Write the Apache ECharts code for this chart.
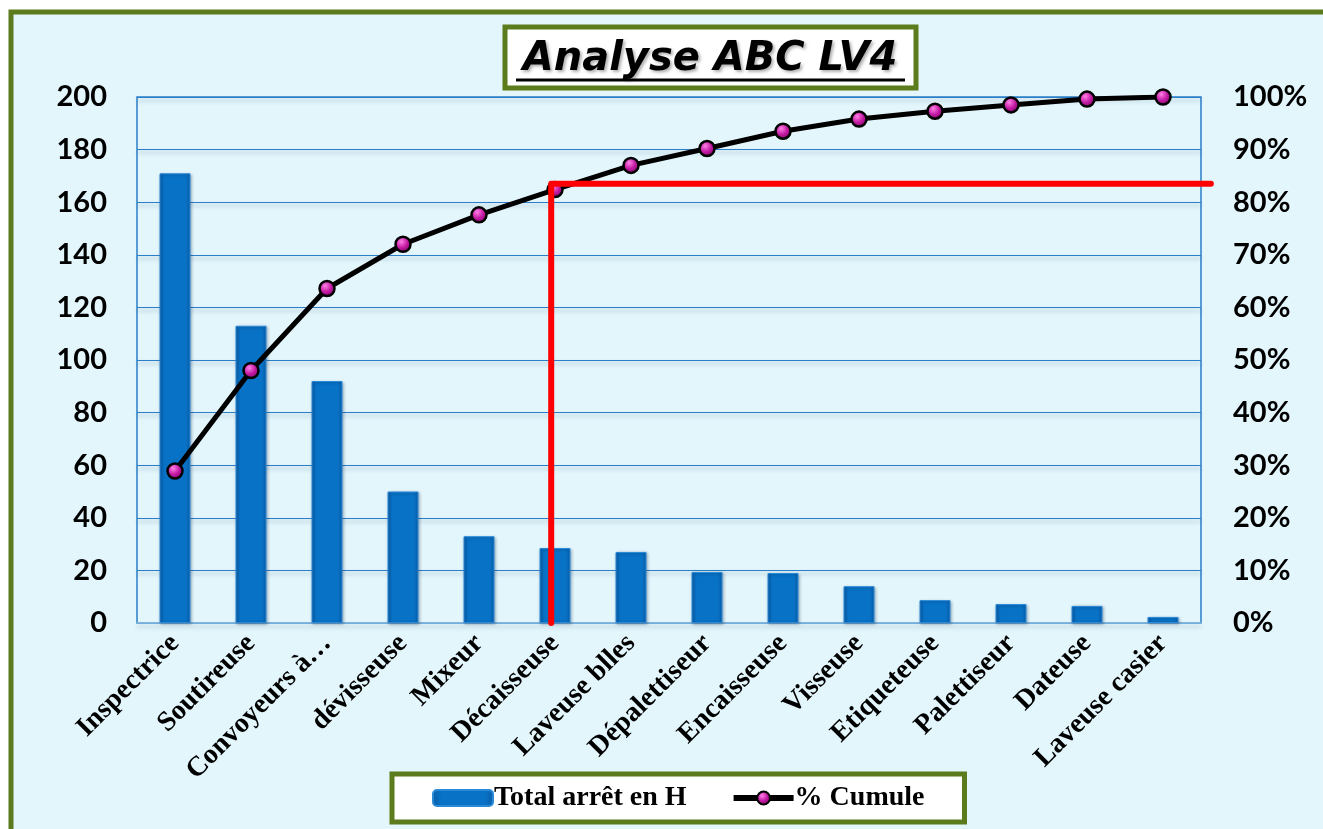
<!DOCTYPE html>
<html><head><meta charset="utf-8">
<script src="https://cdn.jsdelivr.net/npm/echarts@6/dist/echarts.min.js"></script>
<style>html,body{margin:0;padding:0;background:#fff;}#c{width:1323px;height:829px;}</style>
</head><body><div id="c"></div>
<script>
const categories = ['Inspectrice','Soutireuse','Convoyeurs à…','dévisseuse','Mixeur','Décaisseuse','Laveuse blles','Dépalettiseur','Encaisseuse','Visseuse','Etiqueteuse','Palettiseur','Dateuse','Laveuse casier'];
const totalArret = [171, 113, 92, 50, 33, 28.5, 27, 19.4, 19, 14, 8.7, 7.2, 6.5, 2.3];
const cumule = [28.9, 48.0, 63.6, 72.0, 77.6, 82.4, 87.0, 90.2, 93.5, 95.8, 97.3, 98.5, 99.6, 100];
const leftTicks = {min: 0, max: 200, interval: 20};
const rightTicks = {min: 0, max: 100, interval: 10};
// threshold line (category index position, percent)
const redLineX = [4.95, 4.95, 13.63];
const redLineY = [0, 83.5, 83.5];

const chart = echarts.init(document.getElementById('c'));
const bg = '#e3f6fc', green = '#5b7b1d';
const axisFont = {fontFamily: 'Lato', fontWeight: 'bold', fontSize: 29, color: '#000'};
// overlay grid is wider than the main one (right edge 1323-100) so the threshold line can pass the plot border
const mainGrid = {left: 137, right: 122, top: 97, bottom: 206};
const overlayRight = 100;
const overlayMax = -0.5 + categories.length * (1323 - mainGrid.left - overlayRight) / (1323 - mainGrid.left - mainGrid.right);
chart.setOption({
  animation: false,
  graphic: [
    {type: 'rect', z: -10, shape: {x: 11, y: 12, width: 1340, height: 840}, style: {fill: bg, stroke: green, lineWidth: 5}},
    {type: 'rect', z: 10, shape: {x: 505, y: 27, width: 411, height: 61}, style: {fill: '#fff', stroke: green, lineWidth: 5}},
    {type: 'text', z: 11, x: 710, y: 60, style: {text: 'Analyse ABC LV4', fill: '#000', font: 'italic bold 40px "DejaVu Sans"', align: 'center', verticalAlign: 'middle', textShadowColor: 'rgba(0,0,0,0.3)', textShadowBlur: 3, textShadowOffsetX: 2, textShadowOffsetY: 2}},
    {type: 'line', z: 11, shape: {x1: 516, y1: 80, x2: 905, y2: 80}, style: {stroke: '#000', lineWidth: 3}}
  ],
  legend: {
    data: [{name: 'Total arrêt en H'}, {name: '% Cumule', lineStyle: {width: 6}}],
    left: 392, top: 774,
    backgroundColor: '#fff', borderColor: green, borderWidth: 5,
    padding: [10, 40, 10, 40], itemGap: 44, itemWidth: 60, itemHeight: 16,
    textStyle: {fontFamily: 'Liberation Serif', fontWeight: 'bold', fontSize: 28, color: '#000', padding: [0, 0, 0, -4]}
  },
  grid: [
    Object.assign({show: true, borderColor: '#2a7fc8', borderWidth: 1.5, backgroundColor: 'transparent'}, mainGrid),
    {left: mainGrid.left, right: overlayRight, top: mainGrid.top, bottom: mainGrid.bottom, show: false}
  ],
  xAxis: [
    {type: 'category', data: categories, gridIndex: 0,
     axisLine: {lineStyle: {color: '#8fbfe0', width: 1.5}}, axisTick: {show: false},
     axisLabel: {interval: 0, rotate: 45, margin: 16, fontFamily: 'Liberation Serif', fontWeight: 'bold', fontSize: 28, color: '#000'}},
    {type: 'value', gridIndex: 1, min: -0.5, max: overlayMax, show: false}
  ],
  yAxis: [
    {type: 'value', gridIndex: 0, min: leftTicks.min, max: leftTicks.max, interval: leftTicks.interval,
     axisLine: {show: false}, axisTick: {show: false},
     axisLabel: Object.assign({margin: 30}, axisFont),
     splitLine: {lineStyle: {color: '#2a7fc8', width: 1.2, shadowColor: 'rgba(0,40,80,0.35)', shadowBlur: 4, shadowOffsetY: 3}}},
    {type: 'value', gridIndex: 0, min: rightTicks.min, max: rightTicks.max, interval: rightTicks.interval,
     axisLine: {show: false}, axisTick: {show: false}, splitLine: {show: false},
     axisLabel: Object.assign({margin: 32, formatter: '{value}%'}, axisFont)},
    {type: 'value', gridIndex: 1, min: rightTicks.min, max: rightTicks.max, show: false}
  ],
  series: [
    {name: 'Total arrêt en H', type: 'bar', data: totalArret, barWidth: 31,
     itemStyle: {
       color: new echarts.graphic.LinearGradient(0, 0, 1, 0, [
         {offset: 0, color: '#0a5ea8'}, {offset: 0.15, color: '#0872c6'}, {offset: 0.85, color: '#0872c6'}, {offset: 1, color: '#0a5ea8'}]),
       borderColor: '#2b8ad6', borderWidth: 1,
       shadowColor: 'rgba(0,30,70,0.35)', shadowBlur: 3, shadowOffsetX: 1, shadowOffsetY: 1}},
    {name: '% Cumule', type: 'line', yAxisIndex: 1, data: cumule, z: 5,
     lineStyle: {color: '#000', width: 5},
     symbol: 'circle', symbolSize: 15,
     itemStyle: {
       color: new echarts.graphic.RadialGradient(0.4, 0.35, 0.7, [{offset: 0, color: '#ff7fe6'}, {offset: 0.5, color: '#c21aa2'}, {offset: 1, color: '#7a0066'}]),
       borderColor: '#000', borderWidth: 2.5}},
    {name: 'seuil', type: 'line', xAxisIndex: 1, yAxisIndex: 2, z: 6,
     data: redLineX.map((x, i) => [x, redLineY[i]]),
     symbol: 'none', lineStyle: {color: '#ff0000', width: 6, cap: 'round', join: 'round'}}
  ]
});
</script></body></html>
